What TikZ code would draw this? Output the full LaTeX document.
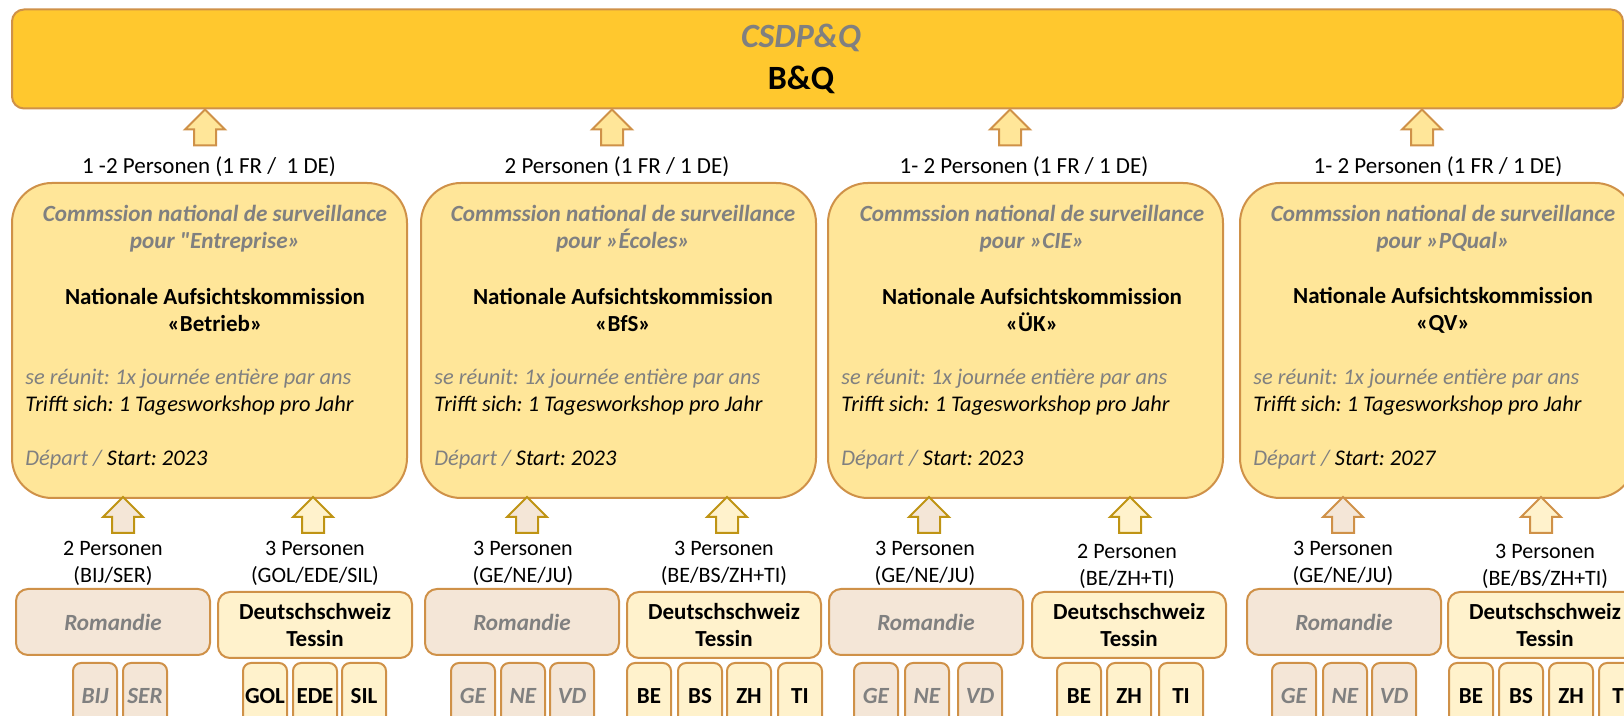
\documentclass[tikz,border=0pt]{standalone}
\usepackage{fontspec}
\setmainfont{Carlito}
\usetikzlibrary{shapes.arrows}
\usetikzlibrary{positioning}

\definecolor{barGold}{RGB}{255,200,46}
\definecolor{commGold}{RGB}{255,230,153}
\definecolor{romBeige}{RGB}{244,230,215}
\definecolor{deuYellow}{RGB}{255,242,204}
\definecolor{edgeOrange}{RGB}{207,145,72}
\definecolor{arrowGold}{RGB}{191,148,20}
\definecolor{frGrey}{RGB}{128,128,128}

\newcommand\bodysize{\fontsize{11}{13.5}\selectfont}
\newcommand\boldsize{\fontsize{11.5}{13.5}\selectfont\bfseries}
\newcommand\titlesize{\fontsize{17}{20}\selectfont}
\frenchspacing

\begin{document}
\begin{tikzpicture}[x=0.5pt,y=0.5pt,
  every node/.style={inner sep=0pt,font=\bodysize},
  top bar/.style={draw=edgeOrange,line width=1pt,fill=barGold,
    rounded corners=6pt,minimum width=805.5pt,minimum height=49.5pt},
  comm box/.style={draw=edgeOrange,line width=1pt,fill=commGold,
    rounded corners=20pt,minimum width=197.5pt,minimum height=157.5pt},
  region box/.style={draw=edgeOrange,line width=1pt,rounded corners=6pt,
    minimum width=97pt,minimum height=33pt},
  canton/.style={draw=edgeOrange,line width=1pt,rounded corners=4pt,
    minimum width=22pt,minimum height=33pt},
  up arrow/.style={single arrow,rotate=90,line width=1pt,inner sep=5pt,
    minimum height=18pt,minimum width=19pt,
    single arrow head extend=4.5pt,single arrow head indent=0pt},
  fr text/.style={text=frGrey,font=\fontsize{11.6}{13.5}\selectfont\bfseries\itshape}]
  \useasboundingbox (0,0) rectangle (1624,716);
  \clip (0,0) rectangle (1624,716);

  % Dachgremium
  \node[top bar] (BQ) at (817.5,657) {};
  \node[font=\titlesize\bfseries\itshape,text=frGrey] (csdp) at (801,678) {CSDP\&Q};
  \node[font=\titlesize\bfseries] (bq) at (801,636) {B\&Q};

  % Aufsichtskommissionen
  \foreach \L/\ax/\lx/\tx/\lab/\fr/\de/\yr [count=\c] in {
      12/205/209/215/{1 -2 Personen (1 FR /\ \ 1 DE)}/{\textquotedbl Entreprise»}/{«Betrieb»}/2023,
      421/612/617/623/{2 Personen (1 FR / 1 DE)}/{»Écoles»}/{«BfS»}/2023,
      828/1010/1024/1032/{1- 2 Personen (1 FR / 1 DE)}/{»CIE»}/{«ÜK»}/2023,
      1240/1422/1438/1443/{1- 2 Personen (1 FR / 1 DE)}/{»PQual»}/{«QV»}/2027}
  {
    \node[comm box] (K\c) at (\L+197.5,375.5) {};
    \node[up arrow,draw=edgeOrange,fill=commGold] (pK\c) at (\ax,583) {};
    \node[font=\fontsize{11.5}{13.5}\selectfont] (nK\c) at (\lx,549) {\lab};
    \node[fr text,align=center] (fK\c) at (\tx,487.5)
      {Commssion national de surveillance\\pour \fr};
    \node[font=\boldsize,align=center] (dK\c) at (\tx,406)
      {Nationale Aufsichtskommission\\\de};
    \node[anchor=west,align=left,font=\fontsize{11.2}{13.5}\selectfont\itshape] (mK\c) at (\L+13,324)
      {\textcolor{frGrey}{se réunit: 1x journée entière par ans}\\Trifft sich: 1 Tagesworkshop pro Jahr};
    \node[anchor=west,font=\fontsize{11.2}{13.5}\selectfont\itshape] (sK\c) at (\L+13,256)
      {\textcolor{frGrey}{Départ /} Start: \yr};
  }

  % Romandie / Deutschschweiz
  \foreach \RL/\DL/\ra/\da/\rl/\dl/\rt/\dt/\dy/\ac [count=\c] in {
      16/218/123/313/113/315/{2 Personen\\(BIJ/SER)}/{3 Personen\\(GOL/EDE/SIL)}/152.5/arrowGold,
      425/627/527/727/523/724/{3 Personen\\(GE/NE/JU)}/{3 Personen\\(BE/BS/ZH+TI)}/152.5/arrowGold,
      829/1032/929/1130/925/1127/{3 Personen\\(GE/NE/JU)}/{2 Personen\\(BE/ZH+TI)}/149.5/arrowGold,
      1247/1448/1343/1541/1343/1545/{3 Personen\\(GE/NE/JU)}/{3 Personen\\(BE/BS/ZH+TI)}/149.5/edgeOrange}
  {
    \node[region box,fill=romBeige,fr text] (R\c) at (\RL+97,94) {Romandie};
    \node[region box,fill=deuYellow,font=\boldsize,align=center] (D\c) at (\DL+97,91)
      {Deutschschweiz\\Tessin};
    \node[up arrow,draw=\ac,fill=romBeige] (pR\c) at (\ra,195.5) {};
    \node[up arrow,draw=\ac,fill=deuYellow] (pD\c) at (\da,195.5) {};
    \node[align=center] (nR\c) at (\rl,152.5) {\rt};
    \node[align=center] (nD\c) at (\dl,\dy) {\dt};
  }

  % Kantone / Schulen
  \foreach \n/\x [count=\i] in {BIJ/73,SER/123,GE/451,NE/501,VD/550,
      GE/854,NE/905,VD/958,GE/1272,NE/1323,VD/1372}
    \node[canton,fill=romBeige,fr text] (rc\i) at (\x+22,20) {\n};
  \foreach \n/\x [count=\i] in {GOL/243,EDE/293,SIL/342,BE/627,BS/678,ZH/727,TI/778,
      BE/1057,ZH/1107,TI/1159,BE/1449,BS/1499,ZH/1549,TI/1599}
    \node[canton,fill=deuYellow,font=\boldsize] (dc\i) at (\x+22,20) {\n};
\end{tikzpicture}
\end{document}
